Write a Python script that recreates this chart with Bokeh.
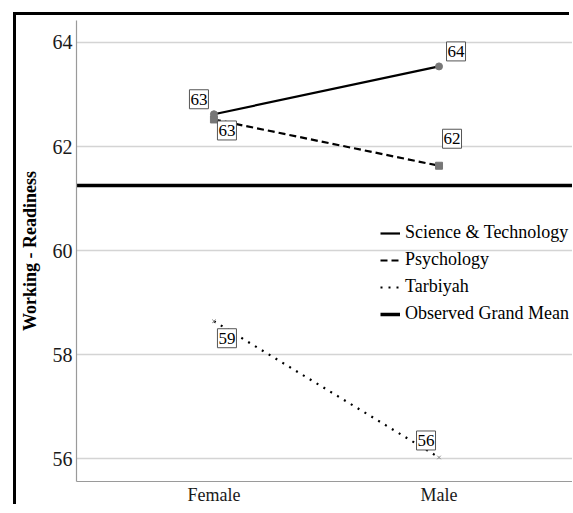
from bokeh.plotting import figure
from bokeh.models import Range1d, FixedTicker, Label, Legend, LegendItem
from bokeh.embed import file_html
from bokeh.resources import INLINE

# ---- data ----
groups = ["Female", "Male"]
group_pos = [0, 1]
science_tech = [62.62, 63.54]
psychology = [62.52, 61.63]
tarbiyah = [58.64, 56.02]
grand_mean = 61.25
y_ticks = [56, 58, 60, 62, 64]
series_names = ["Science & Technology", "Psychology", "Tarbiyah", "Observed Grand Mean"]

FONT = "Liberation Serif, serif"

p = figure(width=556, height=492, output_backend="svg", toolbar_location=None,
           x_range=Range1d(-0.6106, 1.593), y_range=Range1d(55.558, 64.423),
           min_border_left=58, min_border_top=5, min_border_right=0, min_border_bottom=25)
p.margin = (15, 0, 0, 16)
p.styles = {"box-shadow": "-3px -3px 0px 0px black"}
p.outline_line_color = None
p.background_fill_color = "white"

# axes
p.xaxis.ticker = FixedTicker(ticks=group_pos)
p.xaxis.major_label_overrides = {g_pos: g for g_pos, g in zip(group_pos, groups)}
p.yaxis.ticker = FixedTicker(ticks=y_ticks)
for ax in (p.xaxis[0], p.yaxis[0]):
    ax.axis_line_color = "#9a9a9a"
    ax.axis_line_width = 1.2
    ax.major_tick_line_color = None
    ax.minor_tick_line_color = None
    ax.major_tick_out = 0
    ax.major_tick_in = 0
    ax.minor_tick_out = 0
    ax.minor_tick_in = 0
    ax.major_label_text_font = FONT
    ax.major_label_text_color = "#1a1a1a"
p.xaxis.major_label_text_font_size = "18px"
p.xaxis.major_label_standoff = 3
p.yaxis.major_label_text_font_size = "20px"
p.yaxis.major_label_standoff = 4
p.yaxis.axis_label = "Working - Readiness"
p.yaxis.axis_label_text_font = FONT
p.yaxis.axis_label_text_font_style = "bold"
p.yaxis.axis_label_text_font_size = "18px"
p.yaxis.axis_label_text_color = "black"
p.yaxis.axis_label_standoff = 10

p.xgrid.grid_line_color = None
p.ygrid.ticker = FixedTicker(ticks=y_ticks)
p.ygrid.grid_line_color = "#d4d4d4"
p.ygrid.grid_line_width = 1.5

# grand mean
gm = p.hspan(y=[grand_mean], line_color="black", line_width=3.5)

# series lines
r_sci = p.line(group_pos, science_tech, line_color="black", line_width=2.2)
r_psy = p.line(group_pos, psychology, line_color="black", line_width=2.2, line_dash="7 4")
r_tar = p.line(group_pos, tarbiyah, line_color="black", line_width=2.2, line_dash="2 6")

# markers
p.scatter(group_pos, science_tech, marker="circle", size=7, fill_color="#777777", line_color="#777777")
p.scatter(group_pos, psychology, marker="square", size=7, fill_color="#777777", line_color="#777777")
p.scatter(group_pos, tarbiyah, marker="x", size=5, line_color="#888888", line_width=1)

# value labels (rounded means in boxes)
offsets = {
    "sci": [(-15, 15), (17, 15)],
    "psy": [(13, -11), (13, 27)],
    "tar": [(13, -17), (-13, 17)],
}
for key, vals in (("sci", science_tech), ("psy", psychology), ("tar", tarbiyah)):
    for i, (xp, v) in enumerate(zip(group_pos, vals)):
        dx, dy = offsets[key][i]
        p.add_layout(Label(x=xp, y=v, x_offset=dx, y_offset=dy, text=str(int(round(v))),
                           text_font=FONT, text_font_size="17px", text_color="black",
                           text_align="center", text_baseline="middle",
                           background_fill_color="white", border_line_color="#555555",
                           border_line_width=1,
                           padding=dict(left=1, right=1, top=4, bottom=4)))

legend = Legend(items=[
    LegendItem(label=series_names[0], renderers=[r_sci]),
    LegendItem(label=series_names[1], renderers=[r_psy]),
    LegendItem(label=series_names[2], renderers=[r_tar]),
    LegendItem(label=series_names[3], renderers=[gm]),
], location=(304, 157))
legend.background_fill_alpha = 0
legend.border_line_color = None
legend.label_text_font = FONT
legend.label_text_font_size = "18px"
legend.label_text_color = "black"
legend.glyph_width = 20
legend.glyph_height = 20
legend.label_height = 20
legend.label_standoff = 5
legend.spacing = 6
legend.padding = 0
legend.margin = 0
p.add_layout(legend)

open("out.html", "w").write(file_html(p, INLINE))
